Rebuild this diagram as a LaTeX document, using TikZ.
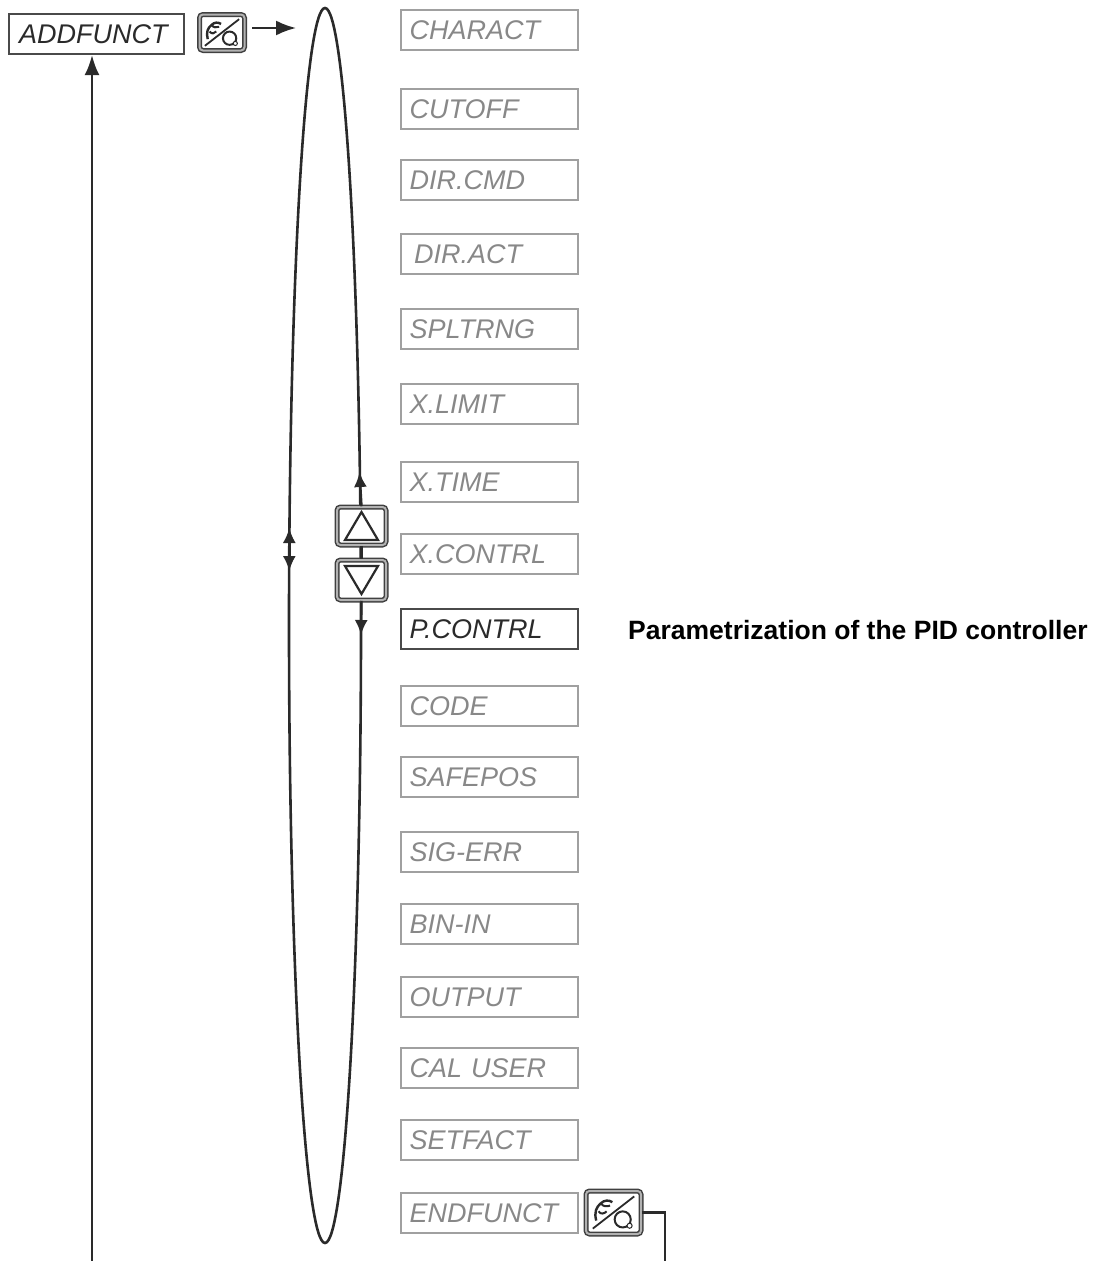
\documentclass[tikz,border=0pt]{standalone}
\usepackage{fontspec}
\setmainfont{Liberation Sans}
\usetikzlibrary{arrows.meta,shapes.geometric,calc}
\definecolor{boxgray}{HTML}{A0A0A0}
\definecolor{txtgray}{HTML}{888888}
\definecolor{ink}{HTML}{2A2A2A}
\tikzset{
  mbox/.style={draw=boxgray, line width=2.3pt, text=txtgray, minimum height=40pt,
    text width=160pt, inner xsep=8.5pt, inner ysep=0pt, align=left,
    font=\fontsize{27}{30}\selectfont\itshape, anchor=west},
  activebox/.style={draw=ink!85, text=ink},
  iconbox/.style={draw=black!75, double=gray!60, double distance=2pt, line width=1.5pt,
    rounded corners=3.5pt, fill=white, inner sep=0pt},
  arr/.style={line width=2.2pt, draw=ink, -{Latex[length=20pt,width=15pt]}},
  tick/.style={line width=2.4pt, draw=ink, -{Latex[length=15pt,width=13pt]}},
  plain/.style={line width=2.2pt, draw=ink}
}
\newcommand\iconart[2]{%
  \begin{scope}[shift={(#1.center)}, scale=#2, draw=ink]
    \draw[line width=1.8pt] (-18,14) -- (18,-14);
    \draw[line width=2.4pt] (-15,7) .. controls (-17,0) and (-15,-5) .. (-11,-8)
      .. controls (-8,-11) and (-4,-11) .. (-1,-9);
    \draw[line width=2pt] (-11,-8) .. controls (-9,-5) and (-6,-5) .. (-3,-6);
    \draw[line width=2pt] (-13,-1) .. controls (-11,2) and (-8,1) .. (-6,-1);
    \draw[line width=2pt] (8,6) circle (7);
    \draw[fill=white, line width=1pt] (14,11.5) circle (2.2);
  \end{scope}}
\begin{document}
\begin{tikzpicture}[x=1pt,y=-1pt]
\useasboundingbox (0,0) rectangle (1097,1261);

% loop ellipse
\node[draw=ink, line width=2.6pt, ellipse, minimum width=72pt, minimum height=1235pt,
  inner sep=0pt] (loop) at (325,625.5) {};

% header
\node[mbox, activebox, text width=155pt, inner xsep=10pt] (addf) at (8,34) {ADDFUNCT};
\node[iconbox, minimum width=45pt, minimum height=36pt] (ico1) at (222,32.5) {};
\iconart{ico1}{0.95}
\coordinate (e1) at (296,28);
\draw[arr] ([xshift=7pt]ico1.east |- e1) -- (e1);

% menu entries
\node[mbox] (m1) at (400,30) {CHARACT};
\node[mbox] (m2) at (400,109) {CUTOFF};
\node[mbox] (m3) at (400,180) {DIR.CMD};
\node[mbox] (m4) at (400,254) {\,DIR.ACT};
\node[mbox] (m5) at (400,329) {SPLTRNG};
\node[mbox] (m6) at (400,404) {X.LIMIT};
\node[mbox] (m7) at (400,482) {X.TIME};
\node[mbox] (m8) at (400,554) {X.CONTRL};
\node[mbox, activebox] (m9) at (400,629) {P.CONTRL};
\node[mbox] (m10) at (400,706) {CODE};
\node[mbox] (m11) at (400,777) {SAFEPOS};
\node[mbox] (m12) at (400,852) {SIG-ERR};
\node[mbox] (m13) at (400,924) {BIN-IN};
\node[mbox] (m14) at (400,997) {OUTPUT};
\node[mbox] (m15) at (400,1068) {CAL USER};
\node[mbox] (m16) at (400,1140) {SETFACT};
\node[mbox] (m17) at (400,1213) {ENDFUNCT};

\node[anchor=west, inner sep=0pt, font=\bfseries\fontsize{26.5}{30}\selectfont]
  (desc) at (628,630) {Parametrization of the PID controller};

% up / down keys
\node[iconbox, minimum width=49pt, minimum height=38pt] (kup) at (361.5,526) {};
\node[iconbox, minimum width=49pt, minimum height=40pt] (kdn) at (361.5,580) {};
\draw[line width=2.2pt, draw=ink, line join=miter] (345,540) -- (378,540) -- (361.5,512) -- cycle;
\draw[line width=2.2pt, draw=ink, line join=miter] (345,566) -- (378,566) -- (361.5,594) -- cycle;
\draw[plain] (kup.south) -- (kdn.north);
\coordinate (rt) at (359.5,472);
\coordinate (rb) at (361,635);
\draw[tick] (kup.north) -- (rt);
\draw[tick] (kdn.south) -- (rb);

% left double arrow
\coordinate (lm) at (289.3,549);
\coordinate (lt) at (289.3,528);
\coordinate (lb) at (289.3,571);
\draw[tick] (lm) -- (lt);
\draw[tick] (lm) -- (lb);

% end icon and return line
\node[iconbox, minimum width=55pt, minimum height=43pt] (ico2) at (613.5,1212.5) {};
\iconart{ico2}{1.15}
\coordinate (endc) at (665,1261);
\draw[plain] (ico2.east) -| (endc);

\coordinate (lbot) at (92,1261);
\draw[arr] (lbot) -- (lbot |- addf.south);
\end{tikzpicture}
\end{document}
